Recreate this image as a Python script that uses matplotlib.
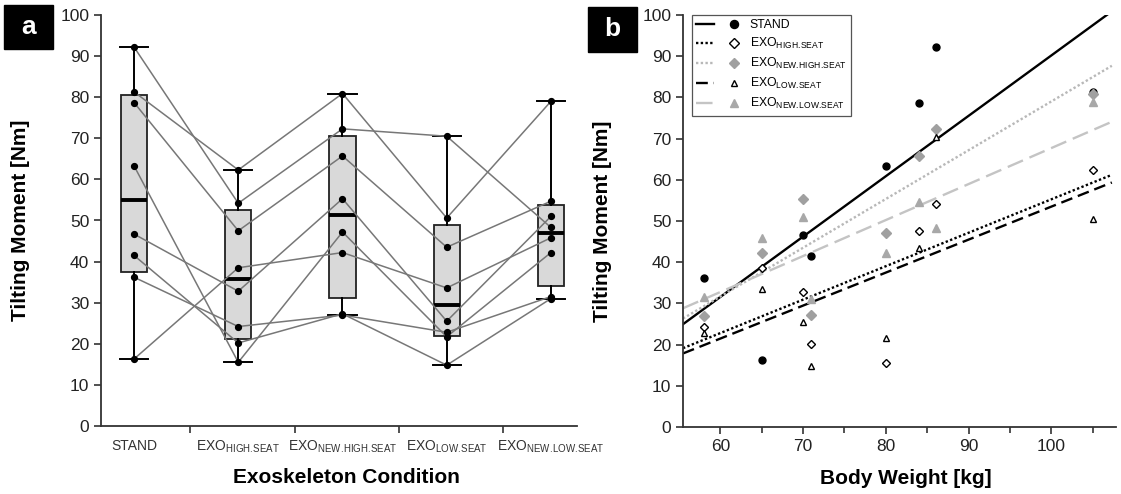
import numpy as np
import matplotlib
matplotlib.use('Agg')
import matplotlib.pyplot as plt
from matplotlib.lines import Line2D
from matplotlib.patches import Rectangle
from matplotlib.legend_handler import HandlerTuple
from matplotlib.ticker import MultipleLocator, FixedLocator

plt.rcParams['font.family'] = ['Liberation Sans', 'DejaVu Sans']
plt.rcParams['mathtext.fontset'] = 'custom'
plt.rcParams['mathtext.rm'] = 'Liberation Sans'
plt.rcParams['mathtext.it'] = 'Liberation Sans:italic'
plt.rcParams['mathtext.bf'] = 'Liberation Sans:bold'

# body weight of the subjects [kg]
weight = [58, 65, 70, 71, 80, 84, 86, 105]

# tilting moment of each subject per condition [Nm]
stand = [36.2, 16.3, 46.7, 41.5, 63.3, 78.7, 92.2, 81.3]
exo_high = [24.2, 38.5, 32.8, 20.2, 15.5, 47.5, 54.2, 62.3]
exo_new_high = [27.0, 42.2, 55.3, 27.3, 47.2, 65.7, 72.3, 80.9]
exo_low = [22.8, 33.6, 25.5, 14.8, 21.7, 43.5, 70.5, 50.6]
exo_new_low = [31.5, 45.8, 51.0, 31.0, 42.2, 54.7, 48.3, 79.0]

conditions = ['STAND',
              r'EXO$_{\mathrm{HIGH}.\!\mathrm{SEAT}}$',
              r'EXO$_{\mathrm{NEW}.\!\mathrm{HIGH}.\!\mathrm{SEAT}}$',
              r'EXO$_{\mathrm{LOW}.\!\mathrm{SEAT}}$',
              r'EXO$_{\mathrm{NEW}.\!\mathrm{LOW}.\!\mathrm{SEAT}}$']
series = [stand, exo_high, exo_new_high, exo_low, exo_new_low]

fig = plt.figure(figsize=(11.21, 4.94), dpi=100)
W, H = 1121, 494


def px_axes(l, r, t, b):
    return fig.add_axes([l / W, 1 - b / H, (r - l) / W, (b - t) / H])


def style_axes(ax):
    for s in ['top', 'right']:
        ax.spines[s].set_visible(False)
    for s in ['left', 'bottom']:
        ax.spines[s].set_linewidth(1.3)
        ax.spines[s].set_color('#333333')
    ax.tick_params(direction='out', length=5, width=1.2, color='#333333',
                   labelsize=12.5, labelcolor='#222222')


# ---------- panel a ----------
ax1 = px_axes(101, 577, 15, 426)
style_axes(ax1)

stats = []
for vals in series:
    q1, med, q3 = np.percentile(vals, [25, 50, 75], method='weibull')
    stats.append(dict(med=med, q1=q1, q3=q3, whislo=min(vals),
                      whishi=max(vals), fliers=[]))
ax1.bxp(stats, positions=range(5), widths=0.25, capwidths=0.27,
        patch_artist=True, showfliers=False,
        boxprops=dict(facecolor='#d9d9d9', edgecolor='#222222', lw=1.3),
        medianprops=dict(color='black', lw=2.8),
        whiskerprops=dict(color='black', lw=1.4),
        capprops=dict(color='black', lw=1.4), zorder=2)

data = np.array(series)
for i in range(len(weight)):
    ax1.plot(range(5), data[:, i], color='#777777', lw=1.1, zorder=3)
for j in range(5):
    ax1.plot([j] * len(weight), data[j], 'o', color='black', ms=4.2, zorder=4)

ax1.set_xlim(-0.317, 4.25)
ax1.set_ylim(0, 100)
ax1.yaxis.set_major_locator(MultipleLocator(10))
ax1.set_xticks(range(5))
ax1.set_xticklabels(conditions)
ax1.tick_params(axis='x', which='major', length=0, pad=9, labelsize=10,
                labelcolor='#333333')
ax1.xaxis.set_minor_locator(FixedLocator([k + 0.54 for k in range(4)]))
ax1.tick_params(axis='x', which='minor', length=5, width=1.2, color='#333333')
ax1.set_ylabel('Tilting Moment [Nm]', fontsize=15, fontweight='bold')
ax1.set_xlabel('Exoskeleton Condition', fontsize=15, fontweight='bold')
ax1.yaxis.set_label_coords(-0.149, 0.5)
ax1.xaxis.set_label_coords(0.516, -0.103)

# ---------- panel b ----------
ax2 = px_axes(683, 1116, 15, 427)
style_axes(ax2)

styles = [
    dict(ls='-', lc='black', marker='o', mfc='black', mec='black', ms=5),
    dict(ls=(0, (1, 1)), lc='black', marker='D', mfc='white', mec='black', ms=4.3),
    dict(ls=(0, (1, 1)), lc='#b8b8b8', marker='D', mfc='#a0a0a0', mec='#a0a0a0', ms=4.8),
    dict(ls=(0, (5, 2.5)), lc='black', marker='^', mfc='white', mec='black', ms=4),
    dict(ls=(0, (7, 3)), lc='#c4c4c4', marker='^', mfc='#a8a8a8', mec='#a8a8a8', ms=5.2),
]
xs = np.array([55.5, 107.3])
handles = []
for vals, st in zip(series, styles):
    k, b = np.polyfit(weight, vals, 1)
    ax2.plot(xs, k * xs + b, ls=st['ls'], color=st['lc'], lw=1.7, zorder=2)
    ax2.plot(weight, vals, ls='none', marker=st['marker'], mfc=st['mfc'],
             mec=st['mec'], ms=st['ms'], mew=1.0, zorder=3)
    mk = Line2D([], [], ls='none', marker=st['marker'], mfc=st['mfc'],
                mec=st['mec'], ms=st['ms'] + 0.8, mew=1.0)
    lh = Line2D([], [], ls=st['ls'], color=st['lc'], lw=1.7)
    handles.append((lh, mk))

ax2.set_xlim(55.5, 107.8)
ax2.set_ylim(0, 100)
ax2.xaxis.set_major_locator(MultipleLocator(10))
ax2.xaxis.set_minor_locator(MultipleLocator(5))
ax2.yaxis.set_major_locator(MultipleLocator(10))
ax2.tick_params(axis='x', which='minor', length=4, width=1.2, color='#333333')
ax2.set_ylabel('Tilting Moment [Nm]', fontsize=15, fontweight='bold')
ax2.set_xlabel('Body Weight [kg]', fontsize=15, fontweight='bold')
ax2.yaxis.set_label_coords(-0.164, 0.5)
ax2.xaxis.set_label_coords(0.515, -0.103)

leg = ax2.legend(handles, conditions, loc='upper left',
                 bbox_to_anchor=(0.02, 1.0), borderaxespad=0,
                 handler_map={tuple: HandlerTuple(ndivide=None, pad=0.9)},
                 handlelength=3.9, fontsize=8.8, fancybox=False,
                 framealpha=1, edgecolor='#555555', labelspacing=0.4,
                 borderpad=0.35, handletextpad=0.5)
leg.get_frame().set_linewidth(0.9)

# ---------- panel letters ----------
for lab, (l, r, t, b) in [('a', (4, 53, 5, 49)), ('b', (588, 637, 7, 52))]:
    fig.add_artist(Rectangle((l / W, 1 - b / H), (r - l) / W, (b - t) / H,
                             transform=fig.transFigure, color='black'))
    fig.text((l + r) / 2 / W, 1 - (t + b) / 2 / H, lab, color='white',
             fontsize=19, fontweight='bold', ha='center', va='center')

fig.savefig('out.png', dpi=100)
